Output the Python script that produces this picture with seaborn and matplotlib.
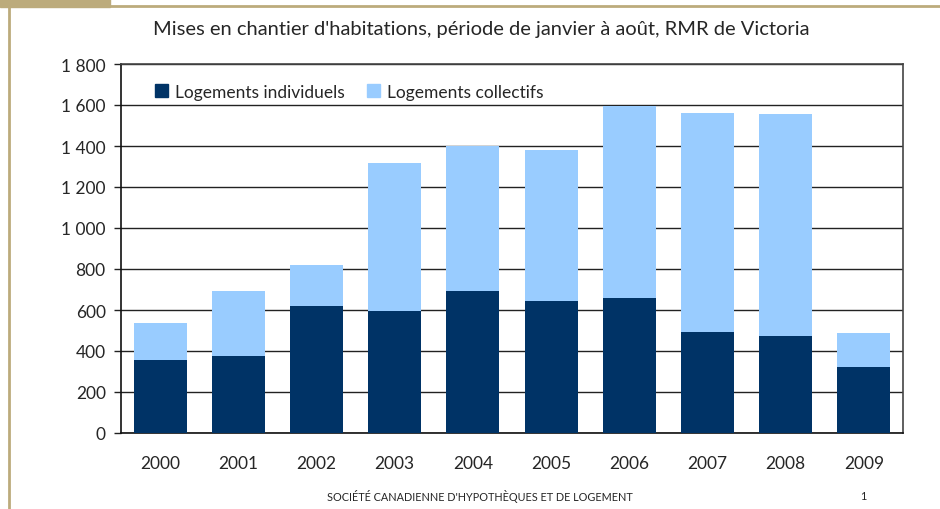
import matplotlib
matplotlib.use("Agg")
import matplotlib.pyplot as plt
import seaborn as sns
import pandas as pd
import numpy as np
from matplotlib.patches import Rectangle
from matplotlib.lines import Line2D

annees = ['2000', '2001', '2002', '2003', '2004', '2005', '2006', '2007', '2008', '2009']
individuels = [355, 375, 620, 595, 693, 644, 659, 493, 473, 322]
collectifs = [182, 318, 200, 722, 707, 736, 938, 1068, 1083, 166]
y_ticks = [0, 200, 400, 600, 800, 1000, 1200, 1400, 1600, 1800]
y_labels = ['0', '200', '400', '600', '800', '1 000', '1 200', '1 400', '1 600', '1 800']

titre = "Mises en chantier d'habitations, période de janvier à août, RMR de Victoria"
pied = "SOCIÉTÉ CANADIENNE D'HYPOTHÈQUES ET DE LOGEMENT"

sns.set_style("white")
plt.rcParams['font.family'] = ['Lato', 'DejaVu Sans']

df = pd.DataFrame({'annee': annees, 'individuels': individuels, 'collectifs': collectifs})
df['total'] = df['individuels'] + df['collectifs']

fig = plt.figure(figsize=(9.4, 5.1), dpi=100)
ax = fig.add_axes([121 / 940, 1 - 434 / 510, 782 / 940, 369 / 510])

dark = '#003366'
light = '#99CCFF'
sns.barplot(data=df, x='annee', y='total', color=light, saturation=1, width=0.68,
            linewidth=0, ax=ax, zorder=3)
sns.barplot(data=df, x='annee', y='individuels', color=dark, saturation=1, width=0.68,
            linewidth=0, ax=ax, zorder=3)

ax.set_xlim(-0.5, 9.5)
ax.set_ylim(0, 1800)
ax.set_yticks(y_ticks)
ax.set_yticklabels(y_labels, fontsize=12.5)
ax.set_xlabel('')
ax.set_ylabel('')
ax.tick_params(axis='x', which='major', length=0, labelsize=12.5, pad=16)
ax.set_xticks(np.arange(-0.5, 10, 1), minor=True)
ax.tick_params(axis='x', which='minor', length=5, width=1, direction='out', color='#222222')
ax.tick_params(axis='y', length=5, width=1, direction='out', color='#222222', pad=6, left=True)
ax.yaxis.grid(True, color='#222222', linewidth=1, zorder=0)
ax.set_axisbelow(True)
for s in ['left', 'bottom']:
    ax.spines[s].set_color('#111111')
    ax.spines[s].set_linewidth(1.2)
for s in ['top', 'right']:
    ax.spines[s].set_color('#444444')
    ax.spines[s].set_linewidth(1.2)

handles = [Rectangle((0, 0), 1, 1, color=dark), Rectangle((0, 0), 1, 1, color=light)]
ax.legend(handles, ['Logements individuels', 'Logements collectifs'], ncol=2, frameon=False,
          fontsize=12.5, loc='upper left', bbox_to_anchor=(0.03, 0.975),
          handlelength=0.75, handleheight=0.75,
          handletextpad=0.4, columnspacing=1.3, borderaxespad=0.2)

fig.text(481 / 940, 1 - 30 / 510, titre, ha='center', va='center', fontsize=14.5)
fig.text(480 / 940, 1 - 497 / 510, pied, ha='center', va='center', fontsize=7.8)
fig.text(863 / 940, 1 - 497 / 510, '1', ha='center', va='center', fontsize=7.8)

# cadre de la diapositive
tan = '#BCAB7C'
fig.patches.append(Rectangle((0, 1 - 8 / 510), 110 / 940, 8 / 510, transform=fig.transFigure,
                             color=tan, zorder=0))
fig.lines.append(Line2D([110 / 940, 1], [1 - 7 / 510, 1 - 7 / 510], transform=fig.transFigure,
                        color=tan, linewidth=2))
fig.lines.append(Line2D([8.5 / 940, 8.5 / 940], [0, 1 - 7 / 510], transform=fig.transFigure,
                        color=tan, linewidth=2))

fig.savefig('out.png', dpi=100)
